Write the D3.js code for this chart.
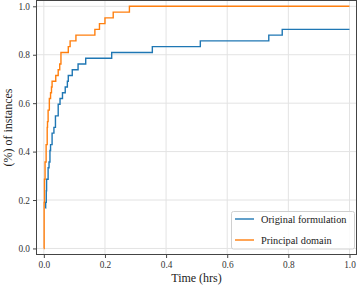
<!DOCTYPE html>
<html>
<head>
<meta charset="utf-8">
<script src="https://cdn.jsdelivr.net/npm/d3@7"></script>
<style>
  html, body { margin: 0; padding: 0; background: #fff; }
  svg text { font-family: 'Liberation Serif', 'Times New Roman', serif !important; }
</style>
</head>
<body>
<svg id="chart" width="357" height="286"></svg>
<script>
    'use strict';

    // number of instances
    var N = 42;

    // time (hrs) at which the solved count steps up
    var originalTimes = [0.005, 0.006, 0.008, 0.009, 0.014, 0.017, 0.020, 0.022, 0.027, 0.033,
        0.038, 0.047, 0.053, 0.061, 0.070, 0.077, 0.080, 0.093, 0.112, 0.137, 0.222, 0.355,
        0.512, 0.736, 0.780, 1.0];
    var originalCounts = [7, 8, 10, 12, 14, 15, 17, 18, 20, 21,
        23, 25, 26, 27, 28, 29, 30, 31, 32, 33, 34, 35,
        36, 37, 38, 38];

    var principalTimes = [0, 0.001, 0.002, 0.004, 0.0075, 0.011, 0.012, 0.014, 0.018, 0.022,
        0.025, 0.027, 0.039, 0.047, 0.052, 0.056, 0.080, 0.086, 0.105, 0.167, 0.182, 0.200,
        0.227, 0.280, 1.0];
    var principalCounts = [0, 8, 12, 15, 18, 21, 22, 24, 26, 27,
        28, 29, 30, 31, 32, 34, 35, 36, 37, 38, 39, 40,
        41, 42, 42];

    var xTicks = [0, 0.2, 0.4, 0.6, 0.8, 1.0];
    var yTicks = [0, 0.2, 0.4, 0.6, 0.8, 1.0];

    var seriesNames = ['Original formulation', 'Principal domain'];
    var seriesColors = ['#1f77b4', '#ff7f0e'];

    var FONT = "'Liberation Serif', serif";
    var PLOT = { left: 36.5, right: 356.5, top: 0.5, bottom: 254.5 };

    var svg = d3.select('#chart');

    var x = d3.scaleLinear().domain([-0.024, 1.023]).range([PLOT.left, PLOT.right]);
    var y = d3.scaleLinear().domain([-0.025, 1.024]).range([PLOT.bottom, PLOT.top]);

    function toPoints(times, counts) {
        return times.map(function (t, i) {
            return { t: t, v: counts[i] / N };
        });
    }

    var series = [
        toPoints(originalTimes, originalCounts),
        toPoints(principalTimes, principalCounts)
    ];

    // grid
    var grid = svg.append('g');
    grid.selectAll('line.gx').data(xTicks).enter()
        .append('line')
        .attr('x1', function (d) { return x(d); })
        .attr('x2', function (d) { return x(d); })
        .attr('y1', PLOT.top)
        .attr('y2', PLOT.bottom)
        .attr('stroke', '#e3e3e3')
        .attr('stroke-width', 1);
    grid.selectAll('line.gy').data(yTicks).enter()
        .append('line')
        .attr('y1', function (d) { return y(d); })
        .attr('y2', function (d) { return y(d); })
        .attr('x1', PLOT.left)
        .attr('x2', PLOT.right)
        .attr('stroke', '#e3e3e3')
        .attr('stroke-width', 1);

    // lines
    var line = d3.line()
        .x(function (d) { return x(d.t); })
        .y(function (d) { return y(d.v); })
        .curve(d3.curveStepAfter);

    svg.append('g').selectAll('path').data(series).enter()
        .append('path')
        .attr('d', line)
        .attr('fill', 'none')
        .attr('stroke', function (d, i) { return seriesColors[i]; })
        .attr('stroke-width', 1.4);

    // axes
    var xAxis = svg.append('g')
        .attr('transform', 'translate(0,' + PLOT.bottom + ')')
        .call(d3.axisBottom(x).tickValues(xTicks).tickFormat(d3.format('.1f')).tickSizeOuter(0).tickSize(3.5).tickPadding(3));
    var yAxis = svg.append('g')
        .attr('transform', 'translate(' + PLOT.left + ',0)')
        .call(d3.axisLeft(y).tickValues(yTicks).tickFormat(d3.format('.1f')).tickSizeOuter(0).tickSize(3.5).tickPadding(3));

    [xAxis, yAxis].forEach(function (ax) {
        ax.attr('font-family', FONT).attr('font-size', 9.3);
        ax.select('.domain').remove();
        ax.selectAll('line').attr('stroke', '#444');
        ax.selectAll('text').attr('fill', '#333');
    });

    // frame
    svg.append('rect')
        .attr('x', PLOT.left)
        .attr('y', PLOT.top)
        .attr('width', PLOT.right - PLOT.left)
        .attr('height', PLOT.bottom - PLOT.top)
        .attr('fill', 'none')
        .attr('stroke', '#444')
        .attr('stroke-width', 1);

    // axis labels
    svg.append('text')
        .attr('x', (PLOT.left + PLOT.right) / 2)
        .attr('y', 282)
        .attr('text-anchor', 'middle')
        .attr('fill', '#222')
        .attr('font-family', FONT)
        .attr('font-size', 12)
        .text('Time (hrs)');

    svg.append('text')
        .attr('transform', 'translate(12,' + ((PLOT.top + PLOT.bottom) / 2) + ') rotate(-90)')
        .attr('text-anchor', 'middle')
        .attr('fill', '#222')
        .attr('font-family', FONT)
        .attr('font-size', 12)
        .text('(%) of instances');

    // legend
    var legend = svg.append('g').attr('transform', 'translate(231.5,211.5)');
    legend.append('rect')
        .attr('width', 123)
        .attr('height', 37.5)
        .attr('rx', 2)
        .attr('fill', '#fff')
        .attr('fill-opacity', 0.85)
        .attr('stroke', '#d0d0d0')
        .attr('stroke-width', 1);
    var items = legend.selectAll('g.item').data(seriesNames).enter()
        .append('g')
        .attr('transform', function (d, i) { return 'translate(0,' + (7.5 + i * 21) + ')'; });
    items.append('line')
        .attr('x1', 3.5)
        .attr('x2', 22.5)
        .attr('stroke', function (d, i) { return seriesColors[i]; })
        .attr('stroke-width', 1.4);
    items.append('text')
        .attr('x', 29.5)
        .attr('y', 3.5)
        .attr('fill', '#222')
        .attr('font-family', FONT)
        .attr('font-size', 10.3)
        .text(function (d) { return d; });
</script>
</body>
</html>
